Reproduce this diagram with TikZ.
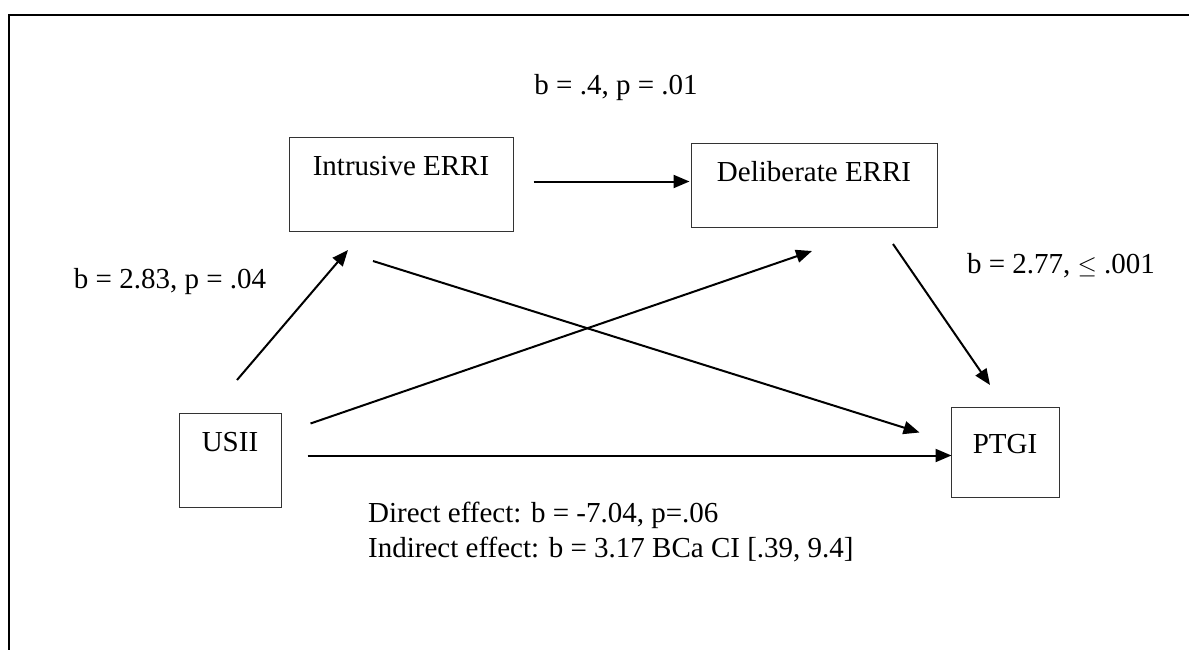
\documentclass[tikz,border=0pt]{standalone}
\usepackage{fontspec}
\setmainfont{Liberation Serif}
\usetikzlibrary{arrows.meta}

\begin{document}
\begin{tikzpicture}
  [x=1pt,y=-1pt,
   every node/.style={font=\fontsize{29}{35}\selectfont},
   varbox/.style={draw=black!80,line width=1pt,inner sep=0pt,text height=38pt,anchor=north},
   txt/.style={inner sep=0pt,anchor=base},
   arr/.style={line width=2pt,-{Triangle[length=16pt,width=13pt]}}]

  \useasboundingbox (0,0) rectangle (1189,650);
  % open frame round the figure
  \draw[line width=2pt] (9,650) -- (9,15) -- (1189,15);

  \node[varbox,minimum width=224pt,text depth=56pt] (intr) at (401,137) {Intrusive ERRI};
  \node[varbox,minimum width=246pt,text depth=46pt] (delib) at (814,143) {Deliberate ERRI};
  \node[varbox,minimum width=102pt,text depth=56pt] (usii) at (230,413) {USII};
  \node[varbox,minimum width=108pt,text depth=44pt,text height=46pt] (ptgi) at (1005,407) {PTGI};

  \node[txt] (ab) at (616,95) {b = .4, p = .01};
  \node[txt] (ua) at (170,288) {b = 2.83, p = .04};
  \node[txt] (dp) at (1061,273) {b = 2.77, $\leq$ .001};
  \node[txt,anchor=base west] (direct) at (368,522) {Direct effect: b = -7.04, p=.06};
  \node[txt,anchor=base west] (indirect) at (368,557) {Indirect effect: b = 3.17 BCa CI [.39, 9.4]};

  \foreach \from/\to/\fs/\ts in {intr.east/delib.west/{20,-3}/{-1,-4},
      usii.north/intr.south/{7,-33}/{-53,18},
      intr.south/ptgi.west/{-28,29}/{-31,-20},
      usii.east/delib.south/{29,-37}/{-2,23},
      usii.east/ptgi.west/{26,-5}/{1,3},
      delib.south/ptgi.north/{79,16}/{-15,-22}}
    \draw[arr] ([shift={(\fs)}]\from) -- ([shift={(\ts)}]\to);
\end{tikzpicture}
\end{document}
